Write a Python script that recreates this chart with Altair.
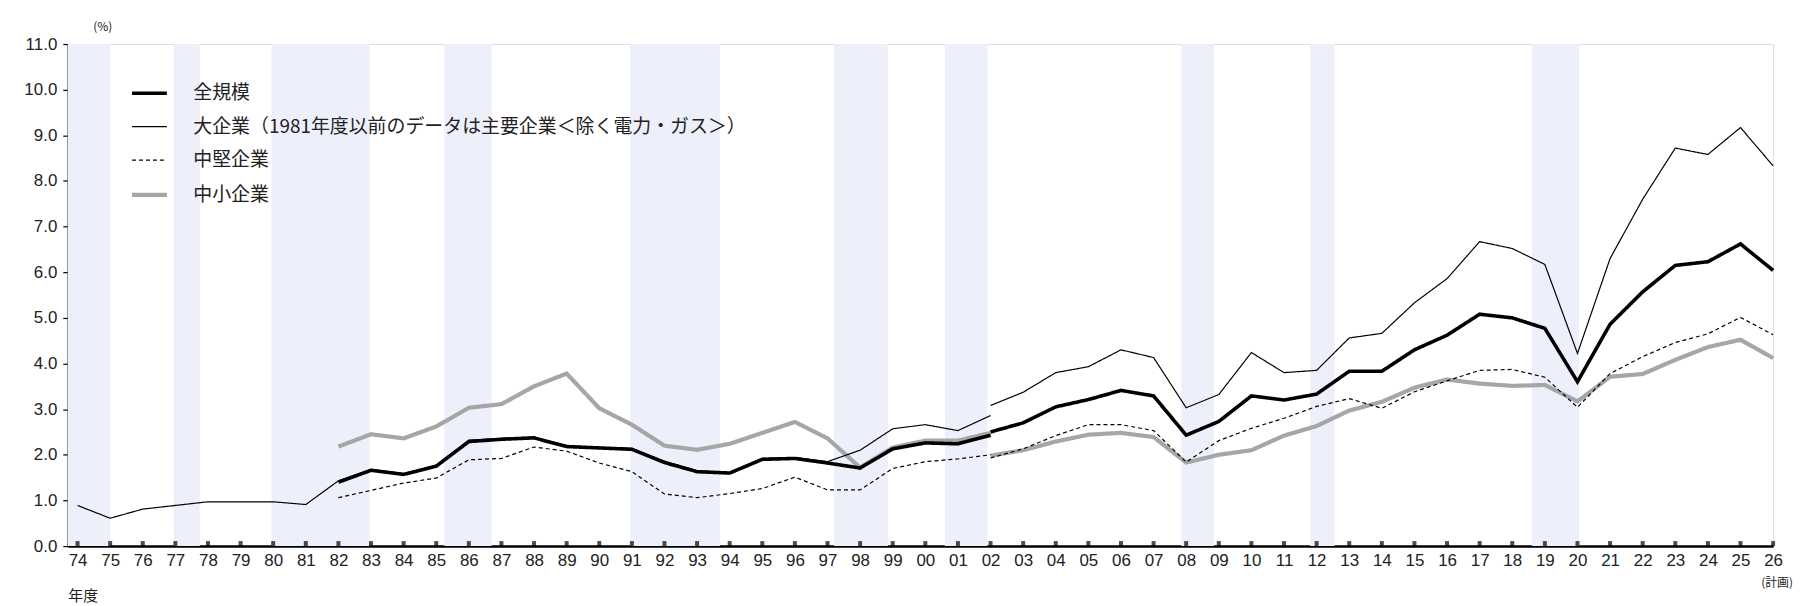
import altair as alt
import pandas as pd

# ---- data -------------------------------------------------------------
SERIES = ["全規模",
          "大企業（1981年度以前のデータは主要企業＜除く電力・ガス＞）",
          "中堅企業",
          "中小企業"]

years_old = list(range(1974, 2003))      # 1974 .. 2002
years_new = list(range(2002, 2027))      # 2002 .. 2026

# old basis (up to FY2002)
large_old = [0.89, 0.61, 0.81, 0.89, 0.97, 0.97, 0.97, 0.91,
             1.43, 1.68, 1.59, 1.77, 2.32, 2.36, 2.39, 2.20, 2.16, 2.14,
             1.86, 1.65, 1.61, 1.92, 1.94, 1.85, 2.10, 2.57, 2.66, 2.53, 2.86]
all_old = [None] * 8 + [1.40, 1.66, 1.57, 1.75, 2.29, 2.34, 2.37, 2.18, 2.15, 2.12,
                        1.83, 1.63, 1.60, 1.90, 1.92, 1.82, 1.71, 2.13, 2.26, 2.24, 2.43]
mid_old = [None] * 8 + [1.06, 1.22, 1.38, 1.49, 1.89, 1.92, 2.17, 2.08, 1.82, 1.63,
                        1.14, 1.06, 1.15, 1.26, 1.51, 1.23, 1.23, 1.70, 1.85, 1.91, 2.00]
small_old = [None] * 8 + [2.18, 2.45, 2.36, 2.62, 3.03, 3.11, 3.50, 3.78, 3.02, 2.66,
                          2.20, 2.11, 2.24, 2.48, 2.72, 2.36, 1.72, 2.16, 2.31, 2.31, 2.48]

# new basis (FY2002 onward, FY2026 = plan)
large_new = [3.08, 3.37, 3.80, 3.93, 4.30, 4.13, 3.03, 3.32, 4.24, 3.80, 3.85, 4.56, 4.66,
             5.33, 5.86, 6.67, 6.52, 6.17, 4.22, 6.30, 7.60, 8.72, 8.58, 9.17, 8.33]
all_new = [2.50, 2.70, 3.05, 3.21, 3.41, 3.29, 2.43, 2.73, 3.29, 3.20, 3.33, 3.83, 3.83,
           4.30, 4.62, 5.08, 5.00, 4.77, 3.60, 4.86, 5.57, 6.15, 6.23, 6.62, 6.04]
mid_new = [1.93, 2.13, 2.42, 2.66, 2.66, 2.53, 1.84, 2.31, 2.58, 2.80, 3.06, 3.23, 3.02,
           3.38, 3.62, 3.85, 3.87, 3.70, 3.04, 3.78, 4.15, 4.46, 4.65, 5.01, 4.63]
small_new = [1.98, 2.10, 2.29, 2.44, 2.48, 2.39, 1.83, 2.00, 2.10, 2.42, 2.63, 2.97, 3.16,
             3.47, 3.65, 3.56, 3.51, 3.53, 3.17, 3.71, 3.77, 4.08, 4.36, 4.52, 4.12]

# recession periods (shaded), in fiscal-year axis units
band_start = [1973.7, 1976.95, 1979.95, 1985.25, 1990.95, 1997.2, 2000.6, 2007.85, 2011.8, 2018.6]
band_end = [1975.0, 1977.75, 1982.95, 1986.7, 1993.7, 1998.85, 2001.9, 2008.85, 2012.55, 2020.05]

tick_years = list(range(1974, 2027))

# ---- build tables ------------------------------------------------------
rows = []
def add(name, seg, yrs, vals):
    for y, v in zip(yrs, vals):
        if v is not None:
            rows.append({"year": y, "value": v, "series": name, "seg": name + seg})

# drawing order: gray first, then dashed, thin, thick
add(SERIES[3], "a", years_old, small_old)
add(SERIES[3], "b", years_new, small_new)
add(SERIES[2], "a", years_old, mid_old)
add(SERIES[2], "b", years_new, mid_new)
add(SERIES[1], "a", years_old, large_old)
add(SERIES[1], "b", years_new, large_new)
add(SERIES[0], "a", years_old, all_old)
add(SERIES[0], "b", years_new, all_new)
df = pd.DataFrame(rows)

bands = pd.DataFrame({"start": band_start, "end": band_end})
ticks = pd.DataFrame({"year": tick_years})

W, H = 1712, 504
NUMFONT = "Liberation Sans Narrow, Liberation Sans, Arial"
JPFONT = "Noto Sans CJK JP"

xscale = alt.Scale(domain=[1973.7, 2026], nice=False, zero=False)
yscale = alt.Scale(domain=[0, 11], nice=False, zero=True)

xaxis = alt.Axis(values=tick_years,
                 labelExpr="substring(toString(datum.value), 2)",
                 grid=False, ticks=False, labelPadding=7,
                 labelFont=NUMFONT, labelFontSize=17, labelColor="#222",
                 labelFlush=False, labelOverlap=False,
                 domainColor="black", domainWidth=2.5,
                 title="年度", titleFont=JPFONT, titleFontSize=15, titleFontWeight="normal",
                 titleAnchor="start", titleAlign="left", titleX=0, titleY=50,
                 titleBaseline="middle", titleColor="#222")
yaxis = alt.Axis(values=list(range(0, 12)), format=".1f", grid=False,
                 tickSize=5, tickColor="black", tickWidth=1.2,
                 labelFont=NUMFONT, labelFontSize=17, labelColor="#222", labelPadding=6,
                 domainColor="black", domainWidth=1.5,
                 title="(%)", titleAngle=0, titleAlign="left", titleBaseline="middle",
                 titleX=25, titleY=-18, titleFont=JPFONT, titleFontSize=12,
                 titleFontWeight="normal", titleColor="#222")

legend = alt.Legend(title=None, orient="none", legendX=62, legendY=30,
                    symbolType="stroke", symbolSize=1225,
                    labelFont=JPFONT, labelFontSize=19, labelColor="#222",
                    labelLimit=900, labelOffset=24, rowPadding=4.5, padding=0)

band_layer = alt.Chart(bands).mark_rect(color="#EDEFFB").encode(
    x=alt.X("start:Q", scale=xscale, axis=xaxis),
    x2="end:Q",
    y=alt.value(0),
    y2=alt.value(H),
)

line_layer = alt.Chart(df).mark_line(strokeCap="butt", strokeJoin="miter").encode(
    x=alt.X("year:Q", scale=xscale, axis=xaxis),
    y=alt.Y("value:Q", scale=yscale, axis=yaxis),
    color=alt.Color("series:N",
                    scale=alt.Scale(domain=SERIES, range=["#000000", "#000000", "#000000", "#A6A6A6"]),
                    legend=legend),
    strokeDash=alt.StrokeDash("series:N",
                              scale=alt.Scale(domain=SERIES, range=[[1, 0], [1, 0], [4, 3], [1, 0]]),
                              legend=legend),
    strokeWidth=alt.StrokeWidth("series:O",
                                scale=alt.Scale(type="ordinal", domain=SERIES,
                                                range=[3.6, 1.2, 1.2, 4.2]),
                                legend=legend),
    detail="seg:N",
)

tick_layer = alt.Chart(ticks).mark_tick(orient="vertical", size=5, thickness=4,
                                        yOffset=-2.5, color="black").encode(
    x=alt.X("year:Q", scale=xscale, axis=xaxis),
    y=alt.Y("z:Q", scale=yscale, axis=yaxis),
).transform_calculate(z="0")

plan_text = alt.Chart(ticks).transform_filter("datum.year == 2026").mark_text(
    text="(計画)", font=JPFONT, fontSize=12, color="#222", align="center",
    baseline="middle", dx=4).encode(
    x=alt.X("year:Q", scale=xscale, axis=xaxis),
    y=alt.value(H + 37),
)

chart = alt.layer(band_layer, line_layer, tick_layer, plan_text).properties(
    width=W, height=H,
    padding={"left": 60, "top": 35, "right": 30, "bottom": 58},
    autosize=alt.AutoSizeParams(type="none"),
).configure_view(stroke="black", strokeWidth=1.5).configure(background="white")

chart.save("out.html", embed_options={"renderer": "svg", "actions": False})
